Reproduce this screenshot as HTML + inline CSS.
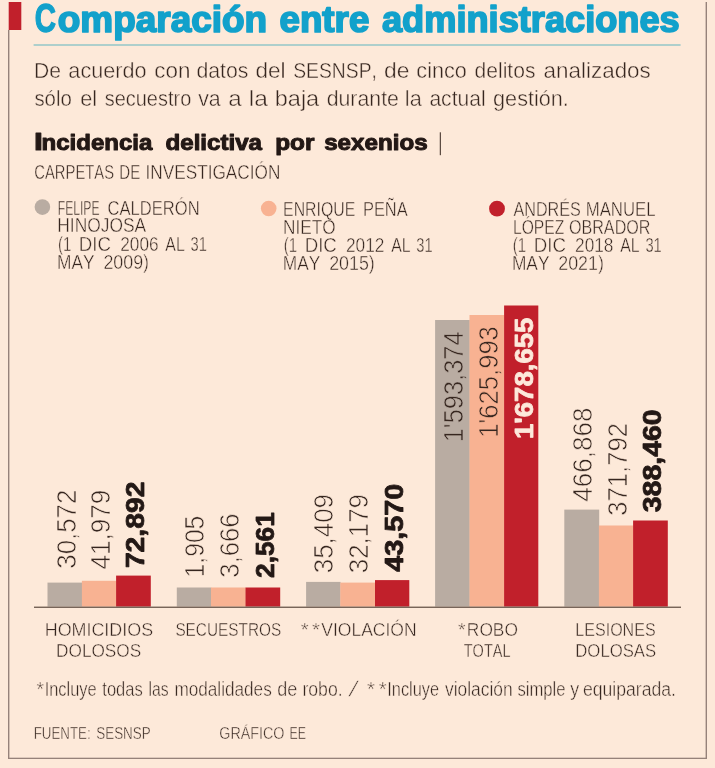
<!DOCTYPE html>
<html lang="es">
<head>
<meta charset="utf-8">
<title>Comparación entre administraciones</title>
<style>
html,body{margin:0;padding:0;background:#fde9d9;}
body{width:715px;height:768px;overflow:hidden;font-family:"Liberation Sans",sans-serif;}
svg{display:block;will-change:transform;font-family:"Liberation Sans",sans-serif;font-kerning:none;}
svg text{font-kerning:none;white-space:pre;}
</style>
</head>
<body>
<svg width="715" height="768" viewBox="0 0 715 768">
<rect x="0.00" y="0.00" width="715.00" height="768.00" fill="#fde9d9"/>
<rect x="8.70" y="2.00" width="12.60" height="28.00" fill="#c1202b"/>
<rect x="8.00" y="30.00" width="1.40" height="729.00" fill="#96827a"/>
<rect x="8.00" y="757.70" width="699.00" height="1.30" fill="#96827a"/>
<rect x="705.60" y="2.00" width="1.40" height="757.00" fill="#96827a"/>
<rect x="33.60" y="44.30" width="647.00" height="1.40" fill="#8cc4c6"/>
<text transform="translate(34.84 31.70) scale(0.7307 1)" font-size="40.4" font-weight="bold" fill="#12a1cb" stroke="#12a1cb" stroke-width="1.3" stroke-linejoin="round">C</text>
<text transform="translate(57.81 31.70) scale(1.0207 1)" font-size="36.2" font-weight="bold" fill="#12a1cb" stroke="#12a1cb" stroke-width="1.7" stroke-linejoin="round">omparación</text>
<text transform="translate(279.41 31.70) scale(1.0167 1)" font-size="36.2" font-weight="bold" fill="#12a1cb" stroke="#12a1cb" stroke-width="1.7" stroke-linejoin="round">entre</text>
<text transform="translate(381.99 31.70) scale(1.0003 1)" font-size="36.2" font-weight="bold" fill="#12a1cb" stroke="#12a1cb" stroke-width="1.7" stroke-linejoin="round">administraciones</text>
<text transform="translate(33.94 77.70) scale(0.9354 1)" font-size="22.6" font-weight="normal" fill="#36261f" stroke="#fde9d9" stroke-width="0.45">De</text>
<text transform="translate(68.35 77.70) scale(0.9585 1)" font-size="22.6" font-weight="normal" fill="#36261f" stroke="#fde9d9" stroke-width="0.45">acuerdo</text>
<text transform="translate(154.32 77.70) scale(0.9923 1)" font-size="22.6" font-weight="normal" fill="#36261f" stroke="#fde9d9" stroke-width="0.45">con</text>
<text transform="translate(196.38 77.70) scale(0.9426 1)" font-size="22.6" font-weight="normal" fill="#36261f" stroke="#fde9d9" stroke-width="0.45">datos</text>
<text transform="translate(255.43 77.70) scale(0.9983 1)" font-size="22.6" font-weight="normal" fill="#36261f" stroke="#fde9d9" stroke-width="0.45">del</text>
<text transform="translate(293.20 77.70) scale(0.8550 1)" font-size="22.6" font-weight="normal" fill="#36261f" stroke="#fde9d9" stroke-width="0.45">SESNSP,</text>
<text transform="translate(384.02 77.70) scale(1.0114 1)" font-size="22.6" font-weight="normal" fill="#36261f" stroke="#fde9d9" stroke-width="0.45">de</text>
<text transform="translate(416.35 77.70) scale(0.9587 1)" font-size="22.6" font-weight="normal" fill="#36261f" stroke="#fde9d9" stroke-width="0.45">cinco</text>
<text transform="translate(474.49 77.70) scale(0.9337 1)" font-size="22.6" font-weight="normal" fill="#36261f" stroke="#fde9d9" stroke-width="0.45">delitos</text>
<text transform="translate(543.62 77.70) scale(0.9922 1)" font-size="22.6" font-weight="normal" fill="#36261f" stroke="#fde9d9" stroke-width="0.45">analizados</text>
<text transform="translate(34.41 106.30) scale(0.9039 1)" font-size="22.6" font-weight="normal" fill="#36261f" stroke="#fde9d9" stroke-width="0.45">sólo</text>
<text transform="translate(80.25 106.30) scale(0.9624 1)" font-size="22.6" font-weight="normal" fill="#36261f" stroke="#fde9d9" stroke-width="0.45">el</text>
<text transform="translate(104.72 106.30) scale(0.8833 1)" font-size="22.6" font-weight="normal" fill="#36261f" stroke="#fde9d9" stroke-width="0.45">secuestro</text>
<text transform="translate(198.20 106.30) scale(0.9436 1)" font-size="22.6" font-weight="normal" fill="#36261f" stroke="#fde9d9" stroke-width="0.45">va</text>
<text transform="translate(228.25 106.30) scale(1.0724 1)" font-size="22.6" font-weight="normal" fill="#36261f" stroke="#fde9d9" stroke-width="0.45">a</text>
<text transform="translate(248.72 106.30) scale(1.0861 1)" font-size="22.6" font-weight="normal" fill="#36261f" stroke="#fde9d9" stroke-width="0.45">la</text>
<text transform="translate(274.76 106.30) scale(1.0407 1)" font-size="22.6" font-weight="normal" fill="#36261f" stroke="#fde9d9" stroke-width="0.45">baja</text>
<text transform="translate(326.68 106.30) scale(0.9431 1)" font-size="22.6" font-weight="normal" fill="#36261f" stroke="#fde9d9" stroke-width="0.45">durante</text>
<text transform="translate(404.81 106.30) scale(0.9616 1)" font-size="22.6" font-weight="normal" fill="#36261f" stroke="#fde9d9" stroke-width="0.45">la</text>
<text transform="translate(429.38 106.30) scale(0.9328 1)" font-size="22.6" font-weight="normal" fill="#36261f" stroke="#fde9d9" stroke-width="0.45">actual</text>
<text transform="translate(493.07 106.30) scale(0.9581 1)" font-size="22.6" font-weight="normal" fill="#36261f" stroke="#fde9d9" stroke-width="0.45">gestión.</text>
<text transform="translate(34.06 150.00) scale(1.2982 1)" font-size="24.6" font-weight="bold" fill="#231815" stroke="#231815" stroke-width="1.0" stroke-linejoin="round">I</text>
<text transform="translate(41.62 150.00) scale(1.1011 1)" font-size="21.8" font-weight="bold" fill="#231815" stroke="#231815" stroke-width="1.0" stroke-linejoin="round">ncidencia</text>
<text transform="translate(165.51 150.00) scale(1.1065 1)" font-size="21.8" font-weight="bold" fill="#231815" stroke="#231815" stroke-width="1.0" stroke-linejoin="round">delictiva</text>
<text transform="translate(275.19 150.00) scale(1.1185 1)" font-size="21.8" font-weight="bold" fill="#231815" stroke="#231815" stroke-width="1.0" stroke-linejoin="round">por</text>
<text transform="translate(324.15 150.00) scale(1.1108 1)" font-size="21.8" font-weight="bold" fill="#231815" stroke="#231815" stroke-width="1.0" stroke-linejoin="round">sexenios</text>
<rect x="439.80" y="132.30" width="1.00" height="22.90" fill="#36261f"/>
<text transform="translate(34.32 178.70) scale(0.7466 1)" font-size="19.8" font-weight="normal" fill="#36261f" stroke="#fde9d9" stroke-width="0.45">CARPETAS</text>
<text transform="translate(119.34 178.70) scale(0.7611 1)" font-size="19.8" font-weight="normal" fill="#36261f" stroke="#fde9d9" stroke-width="0.45">DE</text>
<text transform="translate(145.49 178.70) scale(0.8699 1)" font-size="19.8" font-weight="normal" fill="#36261f" stroke="#fde9d9" stroke-width="0.45">INVESTIGACIÓN</text>
<circle cx="42.4" cy="207.1" r="7.8" fill="#b9aca2"/>
<circle cx="268.7" cy="208.5" r="7.8" fill="#f8b292"/>
<circle cx="497" cy="208.7" r="7.9" fill="#c1202b"/>
<text transform="translate(57.73 214.60) scale(0.6255 1)" font-size="19.4" font-weight="normal" fill="#36261f" stroke="#fde9d9" stroke-width="0.45">FELIPE</text>
<text transform="translate(107.53 214.60) scale(0.8548 1)" font-size="19.4" font-weight="normal" fill="#36261f" stroke="#fde9d9" stroke-width="0.45">CALDERÓN</text>
<text transform="translate(57.30 232.30) scale(0.8971 1)" font-size="19.4" font-weight="normal" fill="#36261f" stroke="#fde9d9" stroke-width="0.45">HINOJOSA</text>
<text transform="translate(57.95 250.70) scale(0.7716 1)" font-size="19.4" font-weight="normal" fill="#36261f" stroke="#fde9d9" stroke-width="0.45">(1</text>
<text transform="translate(78.84 250.70) scale(0.9636 1)" font-size="19.4" font-weight="normal" fill="#36261f" stroke="#fde9d9" stroke-width="0.45">DIC</text>
<text transform="translate(120.21 250.70) scale(0.8892 1)" font-size="19.4" font-weight="normal" fill="#36261f" stroke="#fde9d9" stroke-width="0.45">2006</text>
<text transform="translate(165.34 250.70) scale(0.8179 1)" font-size="19.4" font-weight="normal" fill="#36261f" stroke="#fde9d9" stroke-width="0.45">AL</text>
<text transform="translate(190.52 250.70) scale(0.7566 1)" font-size="19.4" font-weight="normal" fill="#36261f" stroke="#fde9d9" stroke-width="0.45">31</text>
<text transform="translate(57.05 268.70) scale(0.8933 1)" font-size="19.4" font-weight="normal" fill="#36261f" stroke="#fde9d9" stroke-width="0.45">MAY</text>
<text transform="translate(103.38 268.70) scale(0.9201 1)" font-size="19.4" font-weight="normal" fill="#36261f" stroke="#fde9d9" stroke-width="0.45">2009)</text>
<text transform="translate(283.07 215.90) scale(0.8172 1)" font-size="19.4" font-weight="normal" fill="#36261f" stroke="#fde9d9" stroke-width="0.45">ENRIQUE</text>
<text transform="translate(362.93 215.90) scale(0.8467 1)" font-size="19.4" font-weight="normal" fill="#36261f" stroke="#fde9d9" stroke-width="0.45">PEÑA</text>
<text transform="translate(282.96 233.60) scale(0.8888 1)" font-size="19.4" font-weight="normal" fill="#36261f" stroke="#fde9d9" stroke-width="0.45">NIETO</text>
<text transform="translate(283.75 251.90) scale(0.7716 1)" font-size="19.4" font-weight="normal" fill="#36261f" stroke="#fde9d9" stroke-width="0.45">(1</text>
<text transform="translate(304.64 251.90) scale(0.9636 1)" font-size="19.4" font-weight="normal" fill="#36261f" stroke="#fde9d9" stroke-width="0.45">DIC</text>
<text transform="translate(346.00 251.90) scale(0.8919 1)" font-size="19.4" font-weight="normal" fill="#36261f" stroke="#fde9d9" stroke-width="0.45">2012</text>
<text transform="translate(391.14 251.90) scale(0.8179 1)" font-size="19.4" font-weight="normal" fill="#36261f" stroke="#fde9d9" stroke-width="0.45">AL</text>
<text transform="translate(416.32 251.90) scale(0.7566 1)" font-size="19.4" font-weight="normal" fill="#36261f" stroke="#fde9d9" stroke-width="0.45">31</text>
<text transform="translate(282.85 270.10) scale(0.8933 1)" font-size="19.4" font-weight="normal" fill="#36261f" stroke="#fde9d9" stroke-width="0.45">MAY</text>
<text transform="translate(329.18 270.10) scale(0.9201 1)" font-size="19.4" font-weight="normal" fill="#36261f" stroke="#fde9d9" stroke-width="0.45">2015)</text>
<text transform="translate(513.44 215.90) scale(0.8352 1)" font-size="19.4" font-weight="normal" fill="#36261f" stroke="#fde9d9" stroke-width="0.45">ANDRÉS</text>
<text transform="translate(585.70 215.90) scale(0.8656 1)" font-size="19.4" font-weight="normal" fill="#36261f" stroke="#fde9d9" stroke-width="0.45">MANUEL</text>
<text transform="translate(512.99 233.70) scale(0.8069 1)" font-size="19.4" font-weight="normal" fill="#36261f" stroke="#fde9d9" stroke-width="0.45">LÓPEZ</text>
<text transform="translate(568.91 233.70) scale(0.8325 1)" font-size="19.4" font-weight="normal" fill="#36261f" stroke="#fde9d9" stroke-width="0.45">OBRADOR</text>
<text transform="translate(512.85 251.90) scale(0.7716 1)" font-size="19.4" font-weight="normal" fill="#36261f" stroke="#fde9d9" stroke-width="0.45">(1</text>
<text transform="translate(533.74 251.90) scale(0.9636 1)" font-size="19.4" font-weight="normal" fill="#36261f" stroke="#fde9d9" stroke-width="0.45">DIC</text>
<text transform="translate(575.11 251.90) scale(0.8890 1)" font-size="19.4" font-weight="normal" fill="#36261f" stroke="#fde9d9" stroke-width="0.45">2018</text>
<text transform="translate(620.24 251.90) scale(0.8179 1)" font-size="19.4" font-weight="normal" fill="#36261f" stroke="#fde9d9" stroke-width="0.45">AL</text>
<text transform="translate(645.42 251.90) scale(0.7566 1)" font-size="19.4" font-weight="normal" fill="#36261f" stroke="#fde9d9" stroke-width="0.45">31</text>
<text transform="translate(511.95 270.10) scale(0.8933 1)" font-size="19.4" font-weight="normal" fill="#36261f" stroke="#fde9d9" stroke-width="0.45">MAY</text>
<text transform="translate(558.28 270.10) scale(0.9201 1)" font-size="19.4" font-weight="normal" fill="#36261f" stroke="#fde9d9" stroke-width="0.45">2021)</text>
<rect x="47.50" y="582.60" width="34.70" height="24.00" fill="#b9aca2"/>
<rect x="81.90" y="580.80" width="34.50" height="25.80" fill="#f8b292"/>
<rect x="116.10" y="575.60" width="34.70" height="31.00" fill="#c1202b"/>
<rect x="176.80" y="587.50" width="34.50" height="19.10" fill="#b9aca2"/>
<rect x="211.00" y="587.50" width="34.80" height="19.10" fill="#f8b292"/>
<rect x="245.50" y="587.50" width="34.70" height="19.10" fill="#c1202b"/>
<rect x="306.10" y="581.90" width="34.50" height="24.70" fill="#b9aca2"/>
<rect x="340.30" y="582.60" width="35.00" height="24.00" fill="#f8b292"/>
<rect x="375.00" y="580.10" width="34.30" height="26.50" fill="#c1202b"/>
<rect x="435.10" y="320.00" width="34.70" height="286.60" fill="#b9aca2"/>
<rect x="469.50" y="315.00" width="34.90" height="291.60" fill="#f8b292"/>
<rect x="504.10" y="305.50" width="34.20" height="301.10" fill="#c1202b"/>
<rect x="564.30" y="509.60" width="34.90" height="97.00" fill="#b9aca2"/>
<rect x="598.90" y="525.50" width="34.50" height="81.10" fill="#f8b292"/>
<rect x="633.10" y="520.50" width="34.70" height="86.10" fill="#c1202b"/>
<rect x="34.00" y="606.60" width="647.00" height="1.30" fill="#6a574b"/>
<text transform="translate(75.70 568.63) rotate(-90) scale(0.9289 1)" font-size="27.8" font-weight="normal" fill="#36261f" stroke="#fde9d9" stroke-width="0.7">30,572</text>
<text transform="translate(109.70 569.45) rotate(-90) scale(0.9377 1)" font-size="27.8" font-weight="normal" fill="#36261f" stroke="#fde9d9" stroke-width="0.7">41,979</text>
<text transform="translate(144.40 568.12) rotate(-90) scale(1.0800 1)" font-size="26.2" font-weight="bold" fill="#231815" stroke="#231815" stroke-width="0.8" stroke-linejoin="round">72,892</text>
<text transform="translate(204.30 577.43) rotate(-90) scale(0.8886 1)" font-size="27.8" font-weight="normal" fill="#36261f" stroke="#fde9d9" stroke-width="0.7">1,905</text>
<text transform="translate(238.60 577.63) rotate(-90) scale(0.9244 1)" font-size="27.8" font-weight="normal" fill="#36261f" stroke="#fde9d9" stroke-width="0.7">3,666</text>
<text transform="translate(273.60 577.91) rotate(-90) scale(1.0027 1)" font-size="26.2" font-weight="bold" fill="#231815" stroke="#231815" stroke-width="0.8" stroke-linejoin="round">2,561</text>
<text transform="translate(333.40 573.13) rotate(-90) scale(0.9292 1)" font-size="27.8" font-weight="normal" fill="#36261f" stroke="#fde9d9" stroke-width="0.7">35,409</text>
<text transform="translate(368.30 573.13) rotate(-90) scale(0.9292 1)" font-size="27.8" font-weight="normal" fill="#36261f" stroke="#fde9d9" stroke-width="0.7">32,179</text>
<text transform="translate(403.30 571.84) rotate(-90) scale(1.0996 1)" font-size="26.2" font-weight="bold" fill="#231815" stroke="#231815" stroke-width="0.8" stroke-linejoin="round">43,570</text>
<text transform="translate(463.40 442.29) rotate(-90) scale(0.9144 1)" font-size="27.8" font-weight="normal" fill="#36261f" stroke="#b9aca2" stroke-width="0.7">1&#x27;593,374</text>
<text transform="translate(498.10 437.80) rotate(-90) scale(0.9210 1)" font-size="27.8" font-weight="normal" fill="#36261f" stroke="#f8b292" stroke-width="0.7">1&#x27;625,993</text>
<text transform="translate(532.90 439.03) rotate(-90) scale(1.0510 1)" font-size="26.2" font-weight="bold" fill="#fde9db" stroke="#fde9db" stroke-width="0.8" stroke-linejoin="round">1&#x27;678,655</text>
<text transform="translate(592.30 501.75) rotate(-90) scale(0.9377 1)" font-size="27.8" font-weight="normal" fill="#36261f" stroke="#fde9d9" stroke-width="0.7">466,868</text>
<text transform="translate(626.80 515.83) rotate(-90) scale(0.9232 1)" font-size="27.8" font-weight="normal" fill="#36261f" stroke="#fde9d9" stroke-width="0.7">371,792</text>
<text transform="translate(661.10 512.25) rotate(-90) scale(1.0878 1)" font-size="26.2" font-weight="bold" fill="#231815" stroke="#231815" stroke-width="0.8" stroke-linejoin="round">388,460</text>
<text transform="translate(44.71 636.00) scale(0.9425 1)" font-size="19" font-weight="normal" fill="#36261f" stroke="#fde9d9" stroke-width="0.45">HOMICIDIOS</text>
<text transform="translate(56.06 656.80) scale(0.9073 1)" font-size="19" font-weight="normal" fill="#36261f" stroke="#fde9d9" stroke-width="0.45">DOLOSOS</text>
<text transform="translate(175.38 636.00) scale(0.8086 1)" font-size="19" font-weight="normal" fill="#36261f" stroke="#fde9d9" stroke-width="0.45">SECUESTROS</text>
<text transform="translate(300.85 636.00) scale(1.0676 1)" font-size="19" font-weight="normal" fill="#36261f" stroke="#fde9d9" stroke-width="0.45">*</text>
<text transform="translate(312.05 636.00) scale(1.0676 1)" font-size="19" font-weight="normal" fill="#36261f" stroke="#fde9d9" stroke-width="0.45">*</text>
<text transform="translate(321.20 636.00) scale(0.9235 1)" font-size="19" font-weight="normal" fill="#36261f" stroke="#fde9d9" stroke-width="0.45">VIOLACIÓN</text>
<text transform="translate(457.96 636.00) scale(1.0234 1)" font-size="19" font-weight="normal" fill="#36261f" stroke="#fde9d9" stroke-width="0.45">*</text>
<text transform="translate(466.85 636.00) scale(0.9134 1)" font-size="19" font-weight="normal" fill="#36261f" stroke="#fde9d9" stroke-width="0.45">ROBO</text>
<text transform="translate(463.75 656.80) scale(0.7636 1)" font-size="19" font-weight="normal" fill="#36261f" stroke="#fde9d9" stroke-width="0.45">TOTAL</text>
<text transform="translate(575.36 636.10) scale(0.8450 1)" font-size="19" font-weight="normal" fill="#36261f" stroke="#fde9d9" stroke-width="0.45">LESIONES</text>
<text transform="translate(575.30 656.60) scale(0.8805 1)" font-size="19" font-weight="normal" fill="#36261f" stroke="#fde9d9" stroke-width="0.45">DOLOSAS</text>
<text transform="translate(36.47 695.80) scale(0.9778 1)" font-size="19.6" font-weight="normal" fill="#36261f" stroke="#fde9d9" stroke-width="0.45">*</text>
<text transform="translate(44.66 695.80) scale(0.8372 1)" font-size="19.6" font-weight="normal" fill="#36261f" stroke="#fde9d9" stroke-width="0.45">Incluye</text>
<text transform="translate(102.32 695.80) scale(0.8447 1)" font-size="19.6" font-weight="normal" fill="#36261f" stroke="#fde9d9" stroke-width="0.45">todas</text>
<text transform="translate(148.52 695.80) scale(0.8013 1)" font-size="19.6" font-weight="normal" fill="#36261f" stroke="#fde9d9" stroke-width="0.45">las</text>
<text transform="translate(174.43 695.80) scale(0.8765 1)" font-size="19.6" font-weight="normal" fill="#36261f" stroke="#fde9d9" stroke-width="0.45">modalidades</text>
<text transform="translate(277.32 695.80) scale(0.9226 1)" font-size="19.6" font-weight="normal" fill="#36261f" stroke="#fde9d9" stroke-width="0.45">de</text>
<text transform="translate(302.40 695.80) scale(0.9006 1)" font-size="19.6" font-weight="normal" fill="#36261f" stroke="#fde9d9" stroke-width="0.45">robo.</text>
<text transform="translate(367.05 695.80) scale(1.0349 1)" font-size="19.6" font-weight="normal" fill="#36261f" stroke="#fde9d9" stroke-width="0.45">*</text>
<text transform="translate(378.65 695.80) scale(1.0349 1)" font-size="19.6" font-weight="normal" fill="#36261f" stroke="#fde9d9" stroke-width="0.45">*</text>
<text transform="translate(387.27 695.80) scale(0.8339 1)" font-size="19.6" font-weight="normal" fill="#36261f" stroke="#fde9d9" stroke-width="0.45">Incluye</text>
<text transform="translate(445.02 695.80) scale(0.8882 1)" font-size="19.6" font-weight="normal" fill="#36261f" stroke="#fde9d9" stroke-width="0.45">violación</text>
<text transform="translate(517.41 695.80) scale(0.8502 1)" font-size="19.6" font-weight="normal" fill="#36261f" stroke="#fde9d9" stroke-width="0.45">simple</text>
<text transform="translate(570.23 695.80) scale(0.9111 1)" font-size="19.6" font-weight="normal" fill="#36261f" stroke="#fde9d9" stroke-width="0.45">y</text>
<text transform="translate(582.93 695.80) scale(0.8993 1)" font-size="19.6" font-weight="normal" fill="#36261f" stroke="#fde9d9" stroke-width="0.45">equiparada.</text>
<text transform="translate(348.6 695.8) skewX(-17) scale(1 1.06)" font-size="19.8" fill="#36261f" stroke="#fde9d9" stroke-width="0.45">/</text>
<text transform="translate(33.68 738.70) scale(0.8036 1)" font-size="16.6" font-weight="normal" fill="#36261f" stroke="#fde9d9" stroke-width="0.45">FUENTE:</text>
<text transform="translate(96.27 738.70) scale(0.8087 1)" font-size="16.6" font-weight="normal" fill="#36261f" stroke="#fde9d9" stroke-width="0.45">SESNSP</text>
<text transform="translate(219.25 738.70) scale(0.8629 1)" font-size="16.6" font-weight="normal" fill="#36261f" stroke="#fde9d9" stroke-width="0.45">GRÁFICO</text>
<text transform="translate(289.46 738.70) scale(0.7449 1)" font-size="16.6" font-weight="normal" fill="#36261f" stroke="#fde9d9" stroke-width="0.45">EE</text>
</svg>
</body>
</html>
